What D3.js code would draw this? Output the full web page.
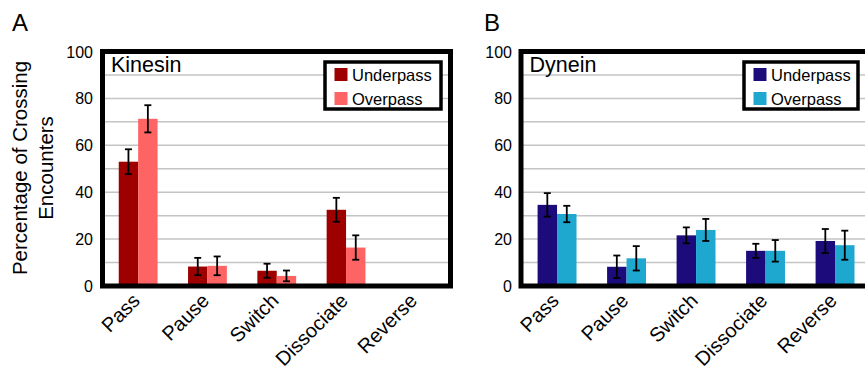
<!DOCTYPE html>
<html>
<head>
<meta charset="utf-8">
<script src="https://cdn.jsdelivr.net/npm/d3@7.9.0/dist/d3.min.js"></script>
<style>
  body { margin: 0; background: #fff; }
  text { font-family: "Liberation Sans", Arial, Helvetica, sans-serif; fill: #000; }
</style>
</head>
<body>
<svg id="chart" width="865" height="373"></svg>
<script>
// categories and series
const categories = ['Pass', 'Pause', 'Switch', 'Dissociate', 'Reverse'];
const seriesNames = ['Underpass', 'Overpass'];
const yTicks = [0, 20, 40, 60, 80, 100];

// Kinesin (panel A)
const kinesinUnder = [53, 8.3, 6.5, 32.5, 0];
const kinesinUnderErr = [5.3, 3.7, 3, 5.1, 0];
const kinesinOver = [71.3, 8.6, 4.3, 16.4, 0];
const kinesinOverErr = [5.8, 4, 2.3, 5.2, 0];

// Dynein (panel B)
const dyneinUnder = [34.6, 8.2, 21.6, 15, 19.2];
const dyneinUnderErr = [5, 4.8, 3.4, 3, 5.1];
const dyneinOver = [30.7, 11.8, 23.9, 15, 17.4];
const dyneinOverErr = [3.5, 5.2, 4.7, 4.6, 6.2];

const panels = [
  { letter: 'A', title: 'Kinesin', under: kinesinUnder, underErr: kinesinUnderErr,
    over: kinesinOver, overErr: kinesinOverErr, colors: ['#9e0000', '#ff6464'],
    x0: 103.5, x1: 450, frameX: 102.5, frameW: 348, tickX: 93, letterX: 12,
    legX: 325, legW: 116 },
  { letter: 'B', title: 'Dynein', under: dyneinUnder, underErr: dyneinUnderErr,
    over: dyneinOver, overErr: dyneinOverErr, colors: ['#1b0b7b', '#1ea7cf'],
    x0: 522.3, x1: 869.8, frameX: 521, frameW: 360, tickX: 512, letterX: 484,
    legX: 744, legW: 114 }
];

const svg = d3.select('#chart');

const y = d3.scaleLinear().domain([0, 100]).range([286, 51.5]);

// shared y title
svg.append('text')
  .attr('transform', `translate(27,168) rotate(-90)`)
  .attr('text-anchor', 'middle')
  .style('font-size', '20.5px')
  .text('Percentage of Crossing');
svg.append('text')
  .attr('transform', `translate(53,168) rotate(-90)`)
  .attr('text-anchor', 'middle')
  .style('font-size', '20.5px')
  .text('Encounters');

panels.forEach((p) => {
  const g = svg.append('g');

  const x = d3.scaleBand()
    .domain(categories)
    .range([p.x0, p.x1])
    .paddingInner(0.44)
    .paddingOuter(0.22);

  const xs = d3.scaleBand()
    .domain(seriesNames)
    .range([0, x.bandwidth()]);

  // panel letter
  g.append('text')
    .attr('x', p.letterX).attr('y', 31)
    .style('font-size', '24px')
    .text(p.letter);

  // gridlines every 10
  g.selectAll('line.grid')
    .data(d3.range(10, 100, 10))
    .enter()
    .append('line')
    .attr('x1', p.frameX).attr('x2', p.frameX + p.frameW)
    .attr('y1', (d) => y(d)).attr('y2', (d) => y(d))
    .attr('stroke', '#c4c4c4')
    .attr('stroke-width', 1.5);

  // y tick labels
  g.selectAll('text.tick')
    .data(yTicks)
    .enter()
    .append('text')
    .attr('x', p.tickX)
    .attr('y', (d) => y(d) + 6)
    .attr('text-anchor', 'end')
    .style('font-size', '16px')
    .text((d) => d);

  // bars
  const rows = categories.map((c, i) => ({
    cat: c,
    vals: [
      { s: 'Underpass', v: p.under[i], e: p.underErr[i] },
      { s: 'Overpass', v: p.over[i], e: p.overErr[i] }
    ]
  }));

  const groups = g.selectAll('g.grp')
    .data(rows)
    .enter()
    .append('g')
    .attr('transform', (d) => `translate(${x(d.cat)},0)`);

  groups.selectAll('rect')
    .data((d) => d.vals)
    .enter()
    .append('rect')
    .attr('x', (d) => xs(d.s))
    .attr('width', xs.bandwidth())
    .attr('y', (d) => y(d.v))
    .attr('height', (d) => y(0) - y(d.v))
    .attr('fill', (d, i) => p.colors[i]);

  // error bars
  const err = groups.selectAll('g.err')
    .data((d) => d.vals.filter((v) => v.v > 0))
    .enter()
    .append('g')
    .attr('stroke', '#000')
    .attr('stroke-width', 1.8);
  err.append('line')
    .attr('x1', (d) => xs(d.s) + xs.bandwidth() / 2)
    .attr('x2', (d) => xs(d.s) + xs.bandwidth() / 2)
    .attr('y1', (d) => y(d.v + d.e))
    .attr('y2', (d) => y(Math.max(0, d.v - d.e)));
  err.selectAll('line.cap')
    .data((d) => [d.v + d.e, Math.max(0, d.v - d.e)].map((t) => ({ t, d })))
    .enter()
    .append('line')
    .attr('x1', (c) => xs(c.d.s) + xs.bandwidth() / 2 - 3.5)
    .attr('x2', (c) => xs(c.d.s) + xs.bandwidth() / 2 + 3.5)
    .attr('y1', (c) => y(c.t))
    .attr('y2', (c) => y(c.t));

  // frame
  g.append('rect')
    .attr('x', p.frameX).attr('y', y(100))
    .attr('width', p.frameW).attr('height', y(0) - y(100))
    .attr('fill', 'none')
    .attr('stroke', '#000')
    .attr('stroke-width', 5);

  // panel title
  g.append('text')
    .attr('x', p.frameX + 8.5).attr('y', 72)
    .style('font-size', '21.5px')
    .text(p.title);

  // legend
  const leg = g.append('g');
  leg.append('rect')
    .attr('x', p.legX).attr('y', 62)
    .attr('width', p.legW).attr('height', 47)
    .attr('fill', '#fff')
    .attr('stroke', '#000')
    .attr('stroke-width', 3.5);
  seriesNames.forEach((s, i) => {
    leg.append('rect')
      .attr('x', p.legX + 9.5).attr('y', 68 + i * 24)
      .attr('width', 13).attr('height', 13)
      .attr('fill', p.colors[i]);
    leg.append('text')
      .attr('x', p.legX + 27).attr('y', 81 + i * 24)
      .style('font-size', '16.5px')
      .text(s);
  });

  // x labels
  g.selectAll('text.xl')
    .data(categories)
    .enter()
    .append('text')
    .attr('text-anchor', 'end')
    .attr('transform', (d) => `translate(${x(d) + x.bandwidth() / 2 + 3},302) rotate(-45)`)
    .style('font-size', '20px')
    .text((d) => d);
});
</script>
</body>
</html>
